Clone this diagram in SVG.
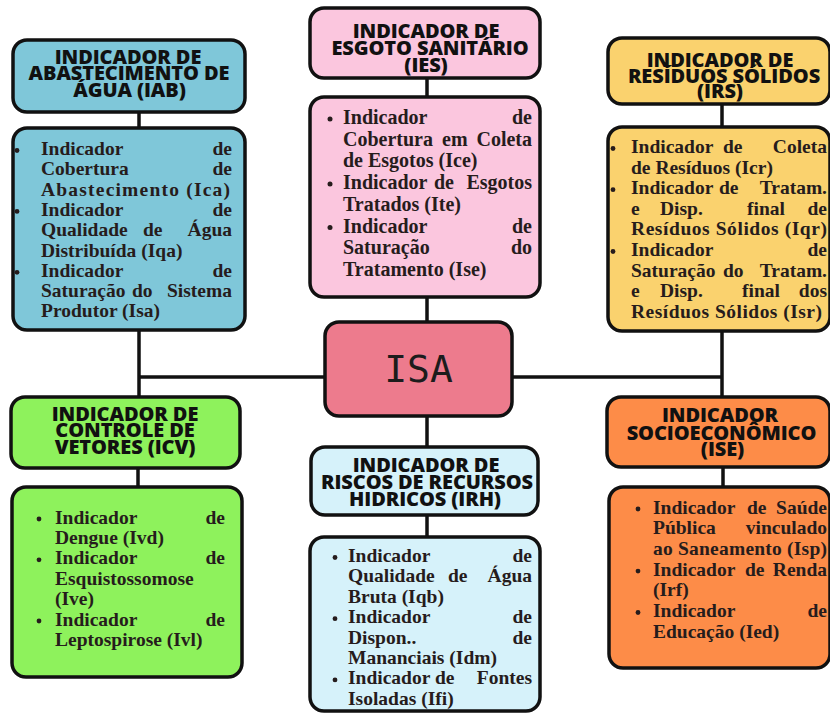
<svg xmlns="http://www.w3.org/2000/svg" width="830" height="713" viewBox="0 0 830 713">
<style>
.bx{stroke:#111;stroke-width:3.5}
.h{font-family:"Open Sans","Liberation Sans",sans-serif;font-weight:800;font-size:20px;letter-spacing:-0.1px;fill:#111;text-anchor:middle}
.b{font-family:"Liberation Serif","Times New Roman",serif;font-weight:bold;font-size:19.5px;fill:#261c1c}
.bL{font-size:20px}
.r{text-anchor:end}
.dot{fill:#261c1c}
.isa{font-family:"DejaVu Sans Mono","Liberation Mono",monospace;font-size:38px;fill:#1c1c1c}
.ln{stroke:#111;stroke-width:3.5;fill:none}
</style>
<rect width="830" height="713" fill="#fff"/>
<g id="connectors">
<line class="ln" x1="139" y1="112" x2="139" y2="128"/>
<line class="ln" x1="427" y1="78" x2="427" y2="97"/>
<line class="ln" x1="722" y1="104" x2="722" y2="127"/>
<line class="ln" x1="139" y1="330" x2="139" y2="397"/>
<line class="ln" x1="139" y1="377" x2="325" y2="377"/>
<line class="ln" x1="512" y1="377" x2="722" y2="377"/>
<line class="ln" x1="722" y1="331" x2="722" y2="397"/>
<line class="ln" x1="427" y1="297" x2="427" y2="322"/>
<line class="ln" x1="427" y1="416" x2="427" y2="447"/>
<line class="ln" x1="138" y1="468" x2="138" y2="487"/>
<line class="ln" x1="427" y1="515" x2="427" y2="537"/>
<line class="ln" x1="723" y1="467" x2="723" y2="487"/>
</g>
<g id="isa">
<rect class="bx" x="325" y="322" width="187" height="94" rx="14" fill="#ed7b8d"/>
<text class="isa" x="418.5" y="382" text-anchor="middle">ISA</text>
</g>
<g id="iab-header">
<rect class="bx" x="13" y="40" width="232" height="72" rx="14" fill="#7fc7d9"/>
<text class="h" x="128" y="63.5">INDICADOR DE</text>
<text class="h" x="129" y="80">ABASTECIMENTO DE</text>
<text class="h" x="129.5" y="96.5">ÁGUA (IAB)</text>
</g>
<g id="iab-content">
<rect class="bx" x="13" y="128" width="232" height="202" rx="14" fill="#7fc7d9"/>
<circle class="dot" cx="17" cy="150.5" r="2.4"/><circle class="dot" cx="17" cy="211.4" r="2.4"/><circle class="dot" cx="17" cy="272.3" r="2.4"/>
<text class="b" x="41" y="155">Indicador</text><text class="b r" x="232" y="155">de</text>
<text class="b" x="41" y="175.3">Cobertura</text><text class="b r" x="232" y="175.3">de</text>
<text class="b" x="41" y="195.6" textLength="189" lengthAdjust="spacing">Abastecimento (Ica)</text>
<text class="b" x="41" y="215.9">Indicador</text><text class="b r" x="232" y="215.9">de</text>
<text class="b" x="41" y="236.2">Qualidade</text><text class="b" x="143" y="236.2">de</text><text class="b r" x="232" y="236.2">Água</text>
<text class="b" x="41" y="256.5">Distribuída (Iqa)</text>
<text class="b" x="41" y="276.8">Indicador</text><text class="b r" x="232" y="276.8">de</text>
<text class="b" x="41" y="297.1">Saturação</text><text class="b" x="132" y="297.1">do</text><text class="b r" x="232" y="297.1">Sistema</text>
<text class="b" x="41" y="317.4">Produtor (Isa)</text>
</g>
<g id="ies-header">
<rect class="bx" x="310" y="8" width="230" height="70" rx="14" fill="#fbc6de"/>
<text class="h" x="426" y="38">INDICADOR DE</text>
<text class="h" x="430" y="55">ESGOTO SANITÁRIO</text>
<text class="h" x="426" y="71.5">(IES)</text>
</g>
<g id="ies-content">
<rect class="bx" x="310" y="97" width="230" height="200" rx="14" fill="#fbc6de"/>
<circle class="dot" cx="330" cy="119" r="2.5"/><circle class="dot" cx="330" cy="184.1" r="2.5"/><circle class="dot" cx="330" cy="227.5" r="2.5"/>
<text class="b bL" x="343" y="124">Indicador</text><text class="b bL r" x="532" y="124">de</text>
<text class="b bL" x="343" y="145.7">Cobertura</text><text class="b bL" x="442" y="145.7">em</text><text class="b bL r" x="532" y="145.7">Coleta</text>
<text class="b bL" x="343" y="167.4">de Esgotos (Ice)</text>
<text class="b bL" x="343" y="189.1">Indicador</text><text class="b bL" x="434" y="189.1">de</text><text class="b bL r" x="532" y="189.1">Esgotos</text>
<text class="b bL" x="343" y="210.8">Tratados (Ite)</text>
<text class="b bL" x="343" y="232.5">Indicador</text><text class="b bL r" x="532" y="232.5">de</text>
<text class="b bL" x="343" y="254.2">Saturação</text><text class="b bL r" x="532" y="254.2">do</text>
<text class="b bL" x="343" y="275.9">Tratamento (Ise)</text>
</g>
<g id="irs-header">
<rect class="bx" x="608" y="38" width="222" height="66" rx="14" fill="#fad26e"/>
<text class="h" x="720" y="67">INDICADOR DE</text>
<text class="h" x="724" y="82.5">RESÍDUOS SÓLIDOS</text>
<text class="h" x="720" y="98">(IRS)</text>
</g>
<g id="irs-content">
<rect class="bx" x="608" y="127" width="222" height="204" rx="14" fill="#fad26e"/>
<circle class="dot" cx="613" cy="148.5" r="2.4"/><circle class="dot" cx="613" cy="189.7" r="2.4"/><circle class="dot" cx="613" cy="251.5" r="2.4"/>
<text class="b" x="631" y="153">Indicador</text><text class="b" x="723" y="153">de</text><text class="b r" x="827" y="153">Coleta</text>
<text class="b" x="631" y="173.6">de Resíduos (Icr)</text>
<text class="b" x="631" y="194.2">Indicador</text><text class="b" x="719" y="194.2">de</text><text class="b r" x="827" y="194.2">Tratam.</text>
<text class="b" x="631" y="214.8">e</text><text class="b" x="660" y="214.8">Disp.</text><text class="b" x="747" y="214.8">final</text><text class="b r" x="827" y="214.8">de</text>
<text class="b" x="631" y="235.4" textLength="196" lengthAdjust="spacing">Resíduos Sólidos (Iqr)</text>
<text class="b" x="631" y="256">Indicador</text><text class="b r" x="827" y="256">de</text>
<text class="b" x="631" y="276.6">Saturação</text><text class="b" x="723" y="276.6">do</text><text class="b r" x="827" y="276.6">Tratam.</text>
<text class="b" x="631" y="297.2">e</text><text class="b" x="660" y="297.2">Disp.</text><text class="b" x="742" y="297.2">final</text><text class="b r" x="827" y="297.2">dos</text>
<text class="b" x="631" y="317.8" textLength="191" lengthAdjust="spacing">Resíduos Sólidos (Isr)</text>
</g>
<g id="icv-header">
<rect class="bx" x="11" y="397" width="229" height="71" rx="14" fill="#8ef25c"/>
<text class="h" x="125" y="420.5">INDICADOR DE</text>
<text class="h" x="125" y="437">CONTROLE DE</text>
<text class="h" x="125" y="453.5">VETORES (ICV)</text>
</g>
<g id="icv-content">
<rect class="bx" x="12" y="487" width="230" height="190" rx="14" fill="#8ef25c"/>
<circle class="dot" cx="39" cy="519" r="2.4"/><circle class="dot" cx="39" cy="559.8" r="2.4"/><circle class="dot" cx="39" cy="621" r="2.4"/>
<text class="b" x="55" y="523.5">Indicador</text><text class="b r" x="225" y="523.5">de</text>
<text class="b" x="55" y="543.9">Dengue (Ivd)</text>
<text class="b" x="55" y="564.3">Indicador</text><text class="b r" x="225" y="564.3">de</text>
<text class="b" x="55" y="584.7">Esquistossomose</text>
<text class="b" x="55" y="605.1">(Ive)</text>
<text class="b" x="55" y="625.5">Indicador</text><text class="b r" x="225" y="625.5">de</text>
<text class="b" x="55" y="645.9">Leptospirose (Ivl)</text>
</g>
<g id="irh-header">
<rect class="bx" x="311" y="447" width="227" height="68" rx="14" fill="#d6f2fa"/>
<text class="h" x="426" y="471.5">INDICADOR DE</text>
<text class="h" x="427" y="489">RISCOS DE RECURSOS</text>
<text class="h" x="425" y="506">HIDRICOS (IRH)</text>
</g>
<g id="irh-content">
<rect class="bx" x="310" y="537" width="230" height="174" rx="14" fill="#d6f2fa"/>
<circle class="dot" cx="335" cy="557.5" r="2.4"/><circle class="dot" cx="335" cy="618.7" r="2.4"/><circle class="dot" cx="335" cy="679.9" r="2.4"/>
<text class="b" x="348" y="562">Indicador</text><text class="b r" x="532" y="562">de</text>
<text class="b" x="348" y="582.4">Qualidade</text><text class="b" x="448" y="582.4">de</text><text class="b r" x="532" y="582.4">Água</text>
<text class="b" x="348" y="602.8">Bruta (Iqb)</text>
<text class="b" x="348" y="623.2">Indicador</text><text class="b r" x="532" y="623.2">de</text>
<text class="b" x="348" y="643.6">Dispon..</text><text class="b r" x="532" y="643.6">de</text>
<text class="b" x="348" y="664">Mananciais (Idm)</text>
<text class="b" x="348" y="684.4">Indicador</text><text class="b" x="435" y="684.4">de</text><text class="b r" x="532" y="684.4">Fontes</text>
<text class="b" x="348" y="704.8">Isoladas (Ifi)</text>
</g>
<g id="ise-header">
<rect class="bx" x="607" y="397" width="223" height="70" rx="14" fill="#fd8c48"/>
<text class="h" x="720" y="421.5">INDICADOR</text>
<text class="h" x="721.5" y="439.5">SOCIOECONÔMICO</text>
<text class="h" x="722.5" y="456">(ISE)</text>
</g>
<g id="ise-content">
<rect class="bx" x="609" y="487" width="221" height="181" rx="14" fill="#fd8c48"/>
<circle class="dot" cx="638" cy="509" r="2.4"/><circle class="dot" cx="638" cy="571.1" r="2.4"/><circle class="dot" cx="638" cy="612.5" r="2.4"/>
<text class="b" x="653" y="513.5">Indicador</text><text class="b" x="747" y="513.5">de</text><text class="b r" x="827" y="513.5">Saúde</text>
<text class="b" x="653" y="534.2">Pública</text><text class="b r" x="827" y="534.2">vinculado</text>
<text class="b" x="653" y="554.9" textLength="174" lengthAdjust="spacing">ao Saneamento (Isp)</text>
<text class="b" x="653" y="575.6">Indicador</text><text class="b" x="745" y="575.6">de</text><text class="b r" x="827" y="575.6">Renda</text>
<text class="b" x="653" y="596.3">(Irf)</text>
<text class="b" x="653" y="617">Indicador</text><text class="b r" x="827" y="617">de</text>
<text class="b" x="653" y="637.7">Educação (Ied)</text>
</g>
</svg>
